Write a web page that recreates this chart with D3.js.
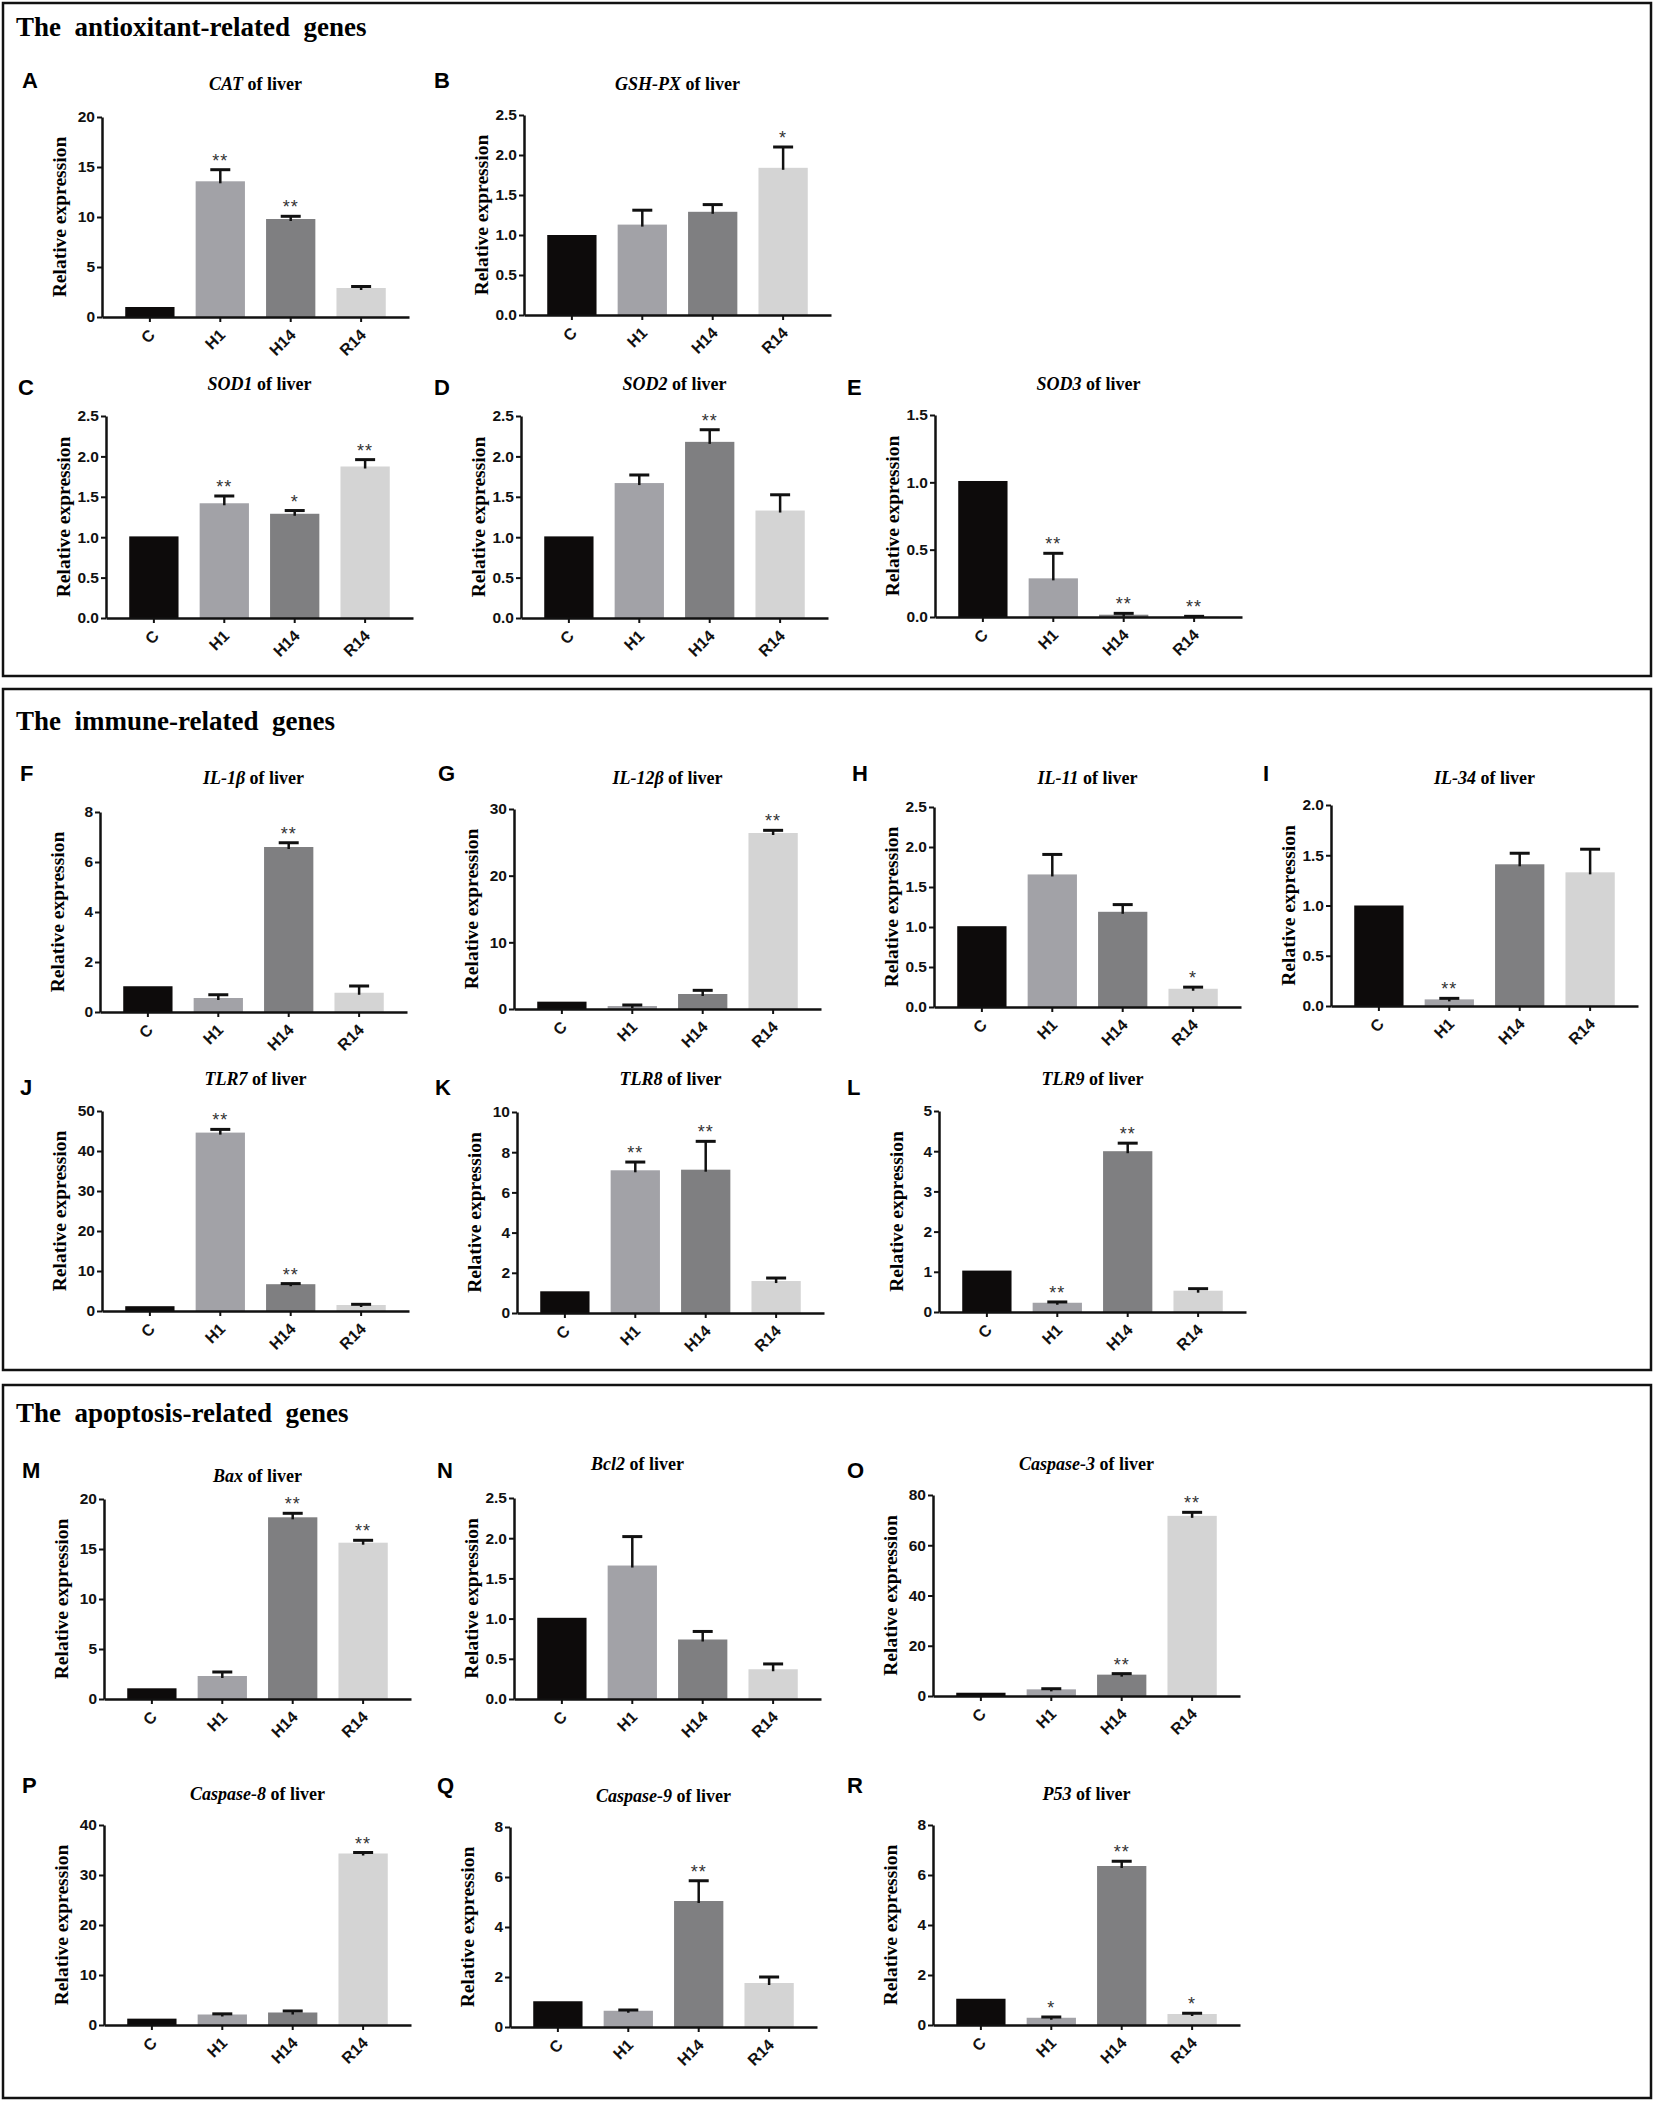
<!DOCTYPE html>
<html>
<head>
<meta charset="utf-8">
<script src="https://cdn.jsdelivr.net/npm/d3@7"></script>
<style>
  body { margin: 0; background: #fff; }
  svg { display: block; }
</style>
</head>
<body>
<div id="chart"></div>
<script>
// grupos e dados
const groups = ["C", "H1", "H14", "R14"];
const sectionTitles = ["The  antioxitant-related  genes", "The  immune-related  genes", "The  apoptosis-related  genes"];
const panelIds = ["A","B","C","D","E","F","G","H","I","J","K","L","M","N","O","P","Q","R"];
const geneNames = ["CAT","GSH-PX","SOD1","SOD2","SOD3","IL-1β","IL-12β","IL-11","IL-34",
                   "TLR7","TLR8","TLR9","Bax","Bcl2","Caspase-3","Caspase-8","Caspase-9","P53"];
const yMaxes = [20, 2.5, 2.5, 2.5, 1.5, 8, 30, 2.5, 2.0, 50, 10, 5, 20, 2.5, 80, 40, 8, 8];
const ySteps = [5, 0.5, 0.5, 0.5, 0.5, 2, 10, 0.5, 0.5, 10, 2, 1, 5, 0.5, 20, 10, 2, 2];

const meanValues = [
    [1.0, 13.57, 9.8, 2.9],
    [1.0, 1.13, 1.29, 1.84],
    [1.01, 1.42, 1.29, 1.875],
    [1.01, 1.67, 2.18, 1.33],
    [1.01, 0.287, 0.017, 0.003],
    [1.03, 0.56, 6.6, 0.77],
    [1.1, 0.45, 2.25, 26.4],
    [1.01, 1.657, 1.19, 0.228],
    [1.0, 0.066, 1.41, 1.33],
    [1.2, 44.6, 6.7, 1.5],
    [1.08, 7.1, 7.13, 1.59],
    [1.03, 0.23, 4.0, 0.53],
    [1.07, 2.3, 18.17, 15.63],
    [1.01, 1.66, 0.74, 0.37],
    [1.3, 2.65, 8.5, 71.7],
    [1.27, 2.1, 2.5, 34.3],
    [1.03, 0.65, 5.04, 1.76],
    [1.05, 0.29, 6.36, 0.44]
];
const semValues = [
    [0, 1.16, 0.27, 0.15],
    [0, 0.18, 0.09, 0.26],
    [0, 0.09, 0.04, 0.085],
    [0, 0.10, 0.15, 0.195],
    [0, 0.186, 0.01, 0.002],
    [0, 0.13, 0.17, 0.27],
    [0, 0.15, 0.55, 0.4],
    [0, 0.25, 0.09, 0.02],
    [0, 0.01, 0.11, 0.23],
    [0, 0.8, 0.15, 0.17],
    [0, 0.41, 1.41, 0.15],
    [0, 0.02, 0.2, 0.05],
    [0, 0.4, 0.4, 0.24],
    [0, 0.36, 0.1, 0.066],
    [0, 0.25, 0.4, 1.4],
    [0, 0.13, 0.3, 0.2],
    [0, 0.03, 0.81, 0.24],
    [0, 0.03, 0.19, 0.03]
];
const sigMarks = [
    ["", "**", "**", ""],
    ["", "", "", "*"],
    ["", "**", "*", "**"],
    ["", "", "**", ""],
    ["", "**", "**", "**"],
    ["", "", "**", ""],
    ["", "", "", "**"],
    ["", "", "", "*"],
    ["", "**", "", ""],
    ["", "**", "**", ""],
    ["", "**", "**", ""],
    ["", "**", "**", ""],
    ["", "", "**", "**"],
    ["", "", "", ""],
    ["", "", "**", "**"],
    ["", "", "", "**"],
    ["", "", "**", ""],
    ["", "*", "**", "*"]
];

// layout (posições em pixels)
const W = 1654, H = 2101;
const boxes = [
    { y: 3, h: 673, titleY: 36 },
    { y: 689, h: 681, titleY: 730 },
    { y: 1385, h: 713, titleY: 1422 }
];
const layout = [
    { x: 102, top: 117, bottom: 317, titleY: 90, letterX: 22, letterY: 88 },
    { x: 524, top: 115, bottom: 315, titleY: 90, letterX: 434, letterY: 88 },
    { x: 106, top: 416, bottom: 618, titleY: 390, letterX: 18, letterY: 395 },
    { x: 521, top: 416, bottom: 618, titleY: 390, letterX: 434, letterY: 395 },
    { x: 935, top: 415, bottom: 617, titleY: 390, letterX: 847, letterY: 395 },
    { x: 100, top: 812, bottom: 1012, titleY: 784, letterX: 20, letterY: 781 },
    { x: 514, top: 809, bottom: 1009, titleY: 784, letterX: 438, letterY: 781 },
    { x: 934, top: 807, bottom: 1007, titleY: 784, letterX: 852, letterY: 781 },
    { x: 1331, top: 805, bottom: 1006, titleY: 784, letterX: 1263, letterY: 781 },
    { x: 102, top: 1111, bottom: 1311, titleY: 1085, letterX: 20, letterY: 1095 },
    { x: 517, top: 1112, bottom: 1313, titleY: 1085, letterX: 435, letterY: 1095 },
    { x: 939, top: 1111, bottom: 1312, titleY: 1085, letterX: 847, letterY: 1095 },
    { x: 104, top: 1499, bottom: 1699, titleY: 1482, letterX: 22, letterY: 1478 },
    { x: 514, top: 1498, bottom: 1699, titleY: 1470, letterX: 437, letterY: 1478, titleShift: -30 },
    { x: 933, top: 1495, bottom: 1696, titleY: 1470, letterX: 847, letterY: 1478 },
    { x: 104, top: 1825, bottom: 2025, titleY: 1800, letterX: 22, letterY: 1793 },
    { x: 510, top: 1827, bottom: 2027, titleY: 1802, letterX: 437, letterY: 1793 },
    { x: 933, top: 1825, bottom: 2025, titleY: 1800, letterX: 847, letterY: 1793 }
];
const axisLen = 307;
const barColors = ["#0d0b0b", "#a2a2a7", "#7f7f81", "#d4d4d4"];
const serif = "'Liberation Serif', 'Times New Roman', serif";
const sans = "'Liberation Sans', Arial, sans-serif";

const svg = d3.select("#chart").append("svg")
    .attr("width", W)
    .attr("height", H);

svg.append("rect").attr("width", W).attr("height", H).attr("fill", "#fff");

// caixas das seções
boxes.forEach((b, i) => {
    svg.append("rect")
        .attr("x", 3).attr("y", b.y)
        .attr("width", W - 6).attr("height", b.h)
        .attr("fill", "none")
        .attr("stroke", "#111")
        .attr("stroke-width", 2.5);
    svg.append("text")
        .attr("x", 16).attr("y", b.titleY)
        .style("white-space", "pre")
        .style("font-family", serif)
        .style("font-weight", "bold")
        .style("font-size", "27px")
        .text(sectionTitles[i]);
});

function drawPanel(i) {
    const L = layout[i];
    const g = svg.append("g");
    const means = meanValues[i], sems = semValues[i], sig = sigMarks[i];

    const x = d3.scaleBand()
        .domain(groups)
        .range([L.x, L.x + axisLen])
        .paddingInner(0.3)
        .paddingOuter(0.33);

    const y = d3.scaleLinear()
        .domain([0, yMaxes[i]])
        .range([L.bottom, L.top]);

    const ticks = d3.range(0, yMaxes[i] + ySteps[i] / 2, ySteps[i]);
    const fmt = ySteps[i] < 1 ? d3.format(".1f") : d3.format("d");

    // barras
    g.selectAll(".bar")
        .data(groups)
        .enter().append("rect")
        .attr("x", d => x(d))
        .attr("width", x.bandwidth())
        .attr("y", (d, j) => y(means[j]))
        .attr("height", (d, j) => L.bottom - y(means[j]))
        .attr("fill", (d, j) => barColors[j]);

    // barras de erro
    groups.forEach((grp, j) => {
        if (sems[j] <= 0) return;
        const cx = x(grp) + x.bandwidth() / 2;
        const top = y(means[j] + sems[j]);
        g.append("line")
            .attr("x1", cx).attr("x2", cx)
            .attr("y1", y(means[j]) + 2).attr("y2", top)
            .attr("stroke", "#111").attr("stroke-width", 2.5);
        g.append("line")
            .attr("x1", cx - 10).attr("x2", cx + 10)
            .attr("y1", top).attr("y2", top)
            .attr("stroke", "#111").attr("stroke-width", 3);
    });

    // asteriscos
    groups.forEach((grp, j) => {
        if (!sig[j]) return;
        const cx = x(grp) + x.bandwidth() / 2;
        g.append("text")
            .attr("x", cx)
            .attr("y", y(means[j] + sems[j]) - 3)
            .attr("text-anchor", "middle")
            .style("font-family", sans)
            .style("font-size", "18px")
            .style("letter-spacing", "1px")
            .style("fill", "#333")
            .text(sig[j]);
    });

    // eixo Y
    const yAxis = g.append("g")
        .attr("transform", `translate(${L.x},0)`)
        .call(d3.axisLeft(y).tickValues(ticks).tickFormat(fmt).tickSize(5).tickSizeOuter(0).tickPadding(2));
    yAxis.select(".domain").attr("stroke", "#111").attr("stroke-width", 2.5);
    yAxis.selectAll(".tick line").attr("stroke", "#111").attr("stroke-width", 2);
    yAxis.selectAll("text")
        .style("font-family", sans)
        .style("font-weight", "bold")
        .style("font-size", "15.5px")
        .style("fill", "#111");

    // eixo X
    const xAxis = g.append("g")
        .attr("transform", `translate(0,${L.bottom})`)
        .call(d3.axisBottom(x).tickSize(5).tickSizeOuter(0));
    xAxis.select(".domain").attr("stroke", "#111").attr("stroke-width", 2.5);
    xAxis.selectAll(".tick line").attr("stroke", "#111").attr("stroke-width", 2);
    xAxis.selectAll("text")
        .attr("x", 0).attr("y", 0)
        .attr("dy", "0.35em")
        .attr("transform", "translate(2,15) rotate(-45)")
        .style("text-anchor", "end")
        .style("font-family", sans)
        .style("font-weight", "bold")
        .style("font-size", "16px")
        .style("fill", "#111");

    // rótulo do eixo Y
    const mid = (L.top + L.bottom) / 2;
    g.append("text")
        .attr("transform", `translate(${L.x - 43},${mid}) rotate(-90)`)
        .attr("text-anchor", "middle")
        .attr("dy", "0.35em")
        .style("font-family", serif)
        .style("font-weight", "bold")
        .style("font-size", "19.5px")
        .text("Relative expression");

    // título do painel
    const title = g.append("text")
        .attr("x", L.x + axisLen / 2 + (L.titleShift || 0))
        .attr("y", L.titleY)
        .attr("text-anchor", "middle")
        .style("font-family", serif)
        .style("font-weight", "bold")
        .style("font-size", "18px");
    title.append("tspan").style("font-style", "italic").text(geneNames[i]);
    title.append("tspan").text(" of liver");

    // letra do painel
    g.append("text")
        .attr("x", L.letterX)
        .attr("y", L.letterY)
        .style("font-family", sans)
        .style("font-weight", "bold")
        .style("font-size", "22px")
        .text(panelIds[i]);
}

panelIds.forEach((id, i) => drawPanel(i));
</script>
</body>
</html>
